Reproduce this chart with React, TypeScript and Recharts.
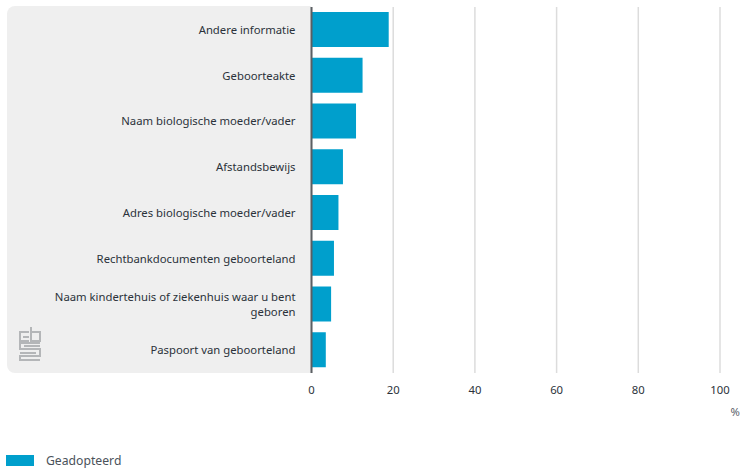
import { BarChart, Bar, CartesianGrid, Legend, XAxis, YAxis } from 'recharts'

const categories = [
  'Andere informatie',
  'Geboorteakte',
  'Naam biologische moeder/vader',
  'Afstandsbewijs',
  'Adres biologische moeder/vader',
  'Rechtbankdocumenten geboorteland',
  'Naam kindertehuis of ziekenhuis waar u bent geboren',
  'Paspoort van geboorteland',
]
const geadopteerd = [18.9, 12.5, 10.9, 7.7, 6.6, 5.5, 4.8, 3.5]
const xTicks = [0, 20, 40, 60, 80, 100]
const seriesName = 'Geadopteerd'

const data = categories.map((name, i) => ({ name, value: geadopteerd[i] }))

const FONT = '"Noto Sans", sans-serif'
const BLUE = '#009fcc'
const TEXT = '#2b323a'
const MAX_CHARS = 45
const LINE_HEIGHT = 15

// the chart's own wrapping measures too wide, so break long labels here
function splitLabel(label: string) {
  const lines: string[] = []
  let current = ''
  for (const word of label.split(' ')) {
    const next = current ? `${current} ${word}` : word
    if (next.length > MAX_CHARS) {
      lines.push(current)
      current = word
    } else {
      current = next
    }
  }
  lines.push(current)
  return lines
}

function CategoryTick({ x, y, payload }: any) {
  const lines = splitLabel(payload.value)
  const startY = y + 4 - ((lines.length - 1) * LINE_HEIGHT) / 2
  return (
    <text textAnchor="end" fontSize={11.3} fontFamily={FONT} fill={TEXT}>
      {lines.map((line, i) => (
        <tspan key={i} x={x} y={startY + i * LINE_HEIGHT}>
          {line}
        </tspan>
      ))}
    </text>
  )
}

function LegendRow() {
  return (
    <div style={{ display: 'flex', alignItems: 'center', fontFamily: FONT, fontSize: 12.2, color: '#4a525a' }}>
      <span style={{ width: 28, height: 11, background: BLUE, marginRight: 12 }} />
      {seriesName}
    </div>
  )
}

function Logo() {
  return (
    <svg
      width={22}
      height={34}
      viewBox="0 0 22 34"
      style={{ position: 'absolute', left: 19, top: 327 }}
      fill="none"
      stroke="#b4b6b8"
      strokeWidth={2}
    >
      <path d="M12 0 V14 H21 V5 H12 M10 5 H1 V14 H10 M4 10 H10" />
      <path d="M21 16 H1 V22 H21 V29 H1 V33 H21 M5 19 H21 M1 26 H17" />
    </svg>
  )
}

export default function App() {
  return (
    <div style={{ position: 'absolute', left: 0, top: 0, width: 741, height: 471, background: '#fff' }}>
      <div
        style={{
          position: 'absolute',
          left: 7,
          top: 6,
          width: 304,
          height: 367,
          background: '#efefef',
          borderRadius: '8px 0 0 8px',
        }}
      />
      <Logo />
      <BarChart
        width={741}
        height={471}
        data={data}
        layout="vertical"
        barCategoryGap={0}
        margin={{ top: 7, right: 21, bottom: 51, left: 7 }}
        style={{ position: 'absolute', left: 0, top: 0 }}
      >
        <CartesianGrid horizontal={false} stroke="#dcdcdc" strokeWidth={1.5} />
        <XAxis
          type="number"
          domain={[0, 100]}
          ticks={xTicks}
          axisLine={false}
          tickLine={false}
          tickMargin={7}
          tick={{ fontSize: 11.3, fontFamily: FONT, fill: TEXT }}
          label={{
            value: '%',
            position: 'insideBottomRight',
            offset: 0,
            dx: 20,
            dy: 13,
            fontSize: 11.3,
            fontFamily: FONT,
            fill: '#5a6068',
          }}
        />
        <YAxis
          type="category"
          dataKey="name"
          width={304.5}
          axisLine={{ stroke: '#5b5f63', strokeWidth: 2 }}
          tickLine={false}
          tickMargin={10}
          interval={0}
          tick={<CategoryTick />}
        />
        <Bar dataKey="value" name={seriesName} fill={BLUE} barSize={35} isAnimationActive={false} />
        <Legend
          content={<LegendRow />}
          wrapperStyle={{ left: 6, bottom: 2, width: 200 }}
        />
      </BarChart>
    </div>
  )
}
